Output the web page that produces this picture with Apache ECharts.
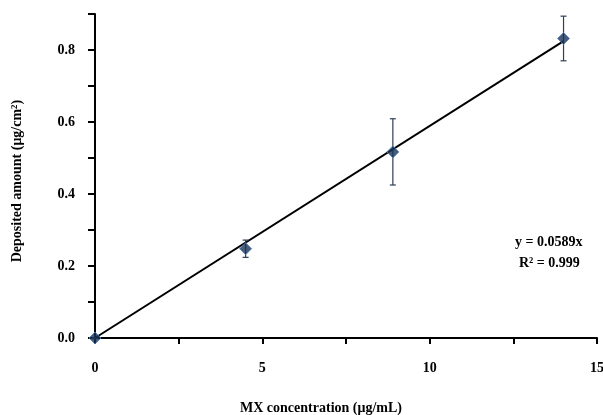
<!DOCTYPE html>
<html>
<head>
<meta charset="utf-8">
<script src="https://cdn.jsdelivr.net/npm/echarts@6/dist/echarts.min.js"></script>
<style>
  html, body { margin: 0; padding: 0; background: #fff; }
  #chart { width: 603px; height: 415px; }
</style>
</head>
<body>
<div id="chart"></div>
<script>
// measured points (MX concentration vs deposited amount)
var conc = [0, 4.5, 8.9, 14.0];
var amount = [0, 0.248, 0.517, 0.832];
var errs = [0, 0.024, 0.092, 0.062];
// linear fit through origin
var slope = 0.0589;
var fitRange = [0, 14];
var eqText = 'y = 0.0589x';
var r2Text = 'R² = 0.999';

var font = '"Liberation Serif", "Times New Roman", serif';

var points = conc.map(function (x, i) { return [x, amount[i]]; });
var bars = conc.map(function (x, i) { return [x, amount[i] - errs[i], amount[i] + errs[i]]; });
var fitLine = fitRange.map(function (x) { return [x, slope * x]; });

var myChart = echarts.init(document.getElementById('chart'));
var option = {
    animation: false,
    grid: { left: 95, right: 6, top: 14, bottom: 77, outerBoundsMode: 'none', containLabel: false },
    xAxis: {
        type: 'value',
        min: 0, max: 15, interval: 2.5,
        name: 'MX concentration (μg/mL)',
        nameLocation: 'middle',
        nameGap: 63,
        nameTextStyle: { fontFamily: font, fontWeight: 'bold', fontSize: 14, color: '#000', padding: [0, 50, 0, 0] },
        axisLine: { lineStyle: { color: '#000', width: 2 } },
        axisTick: { inside: false, length: 6, lineStyle: { color: '#000', width: 2 } },
        axisLabel: {
            margin: 23,
            fontFamily: font, fontWeight: 'bold', fontSize: 14, color: '#000',
            formatter: function (v) { return (v % 5 === 0) ? String(v) : ''; }
        },
        splitLine: { show: false }
    },
    yAxis: {
        type: 'value',
        min: 0, max: 0.9, interval: 0.1,
        name: '{b|Deposited amount (μg/cm}{s|2}{b|)}',
        nameLocation: 'middle',
        nameGap: 70,
        nameRotate: 90,
        nameTextStyle: {
            padding: [0, 10, 0, 0],
            rich: {
                b: { fontFamily: font, fontWeight: 'bold', fontSize: 14, color: '#000' },
                s: { fontFamily: font, fontWeight: 'bold', fontSize: 9, color: '#000', verticalAlign: 'top', padding: [0, 0, 6, 0] }
            }
        },
        axisLine: { show: true, lineStyle: { color: '#000', width: 2 } },
        axisTick: { show: true, length: 7, lineStyle: { color: '#000', width: 2 } },
        axisLabel: {
            margin: 20,
            fontFamily: font, fontWeight: 'bold', fontSize: 14, color: '#000',
            formatter: function (v) {
                return Math.round(v * 10) % 2 === 0 ? v.toFixed(1) : '';
            }
        },
        splitLine: { show: false }
    },
    graphic: [
        { type: 'text', left: 515, top: 235, style: { text: eqText, font: 'bold 14px ' + font, fill: '#000' } },
        { type: 'text', left: 519, top: 256, style: { text: r2Text, font: 'bold 14px ' + font, fill: '#000' } }
    ],
    series: [
        {
            type: 'line',
            data: fitLine,
            showSymbol: false,
            lineStyle: { color: '#000', width: 2 },
            z: 3
        },
        {
            type: 'custom',
            data: bars,
            renderItem: function (params, api) {
                var x = api.value(0);
                var lo = api.coord([x, api.value(1)]);
                var hi = api.coord([x, api.value(2)]);
                var w = 3;
                var st = { stroke: '#2f3f57', lineWidth: 1.2 };
                return {
                    type: 'group',
                    children: [
                        { type: 'line', shape: { x1: lo[0], y1: lo[1], x2: hi[0], y2: hi[1] }, style: st },
                        { type: 'line', shape: { x1: lo[0] - w, y1: lo[1], x2: lo[0] + w, y2: lo[1] }, style: st },
                        { type: 'line', shape: { x1: hi[0] - w, y1: hi[1], x2: hi[0] + w, y2: hi[1] }, style: st }
                    ]
                };
            },
            z: 4
        },
        {
            type: 'scatter',
            data: points,
            symbol: 'diamond',
            symbolSize: 12,
            itemStyle: { color: '#1a3357', borderColor: '#4f7fb8', borderWidth: 1 },
            z: 5
        }
    ]
};
myChart.setOption(option);
</script>
</body>
</html>
